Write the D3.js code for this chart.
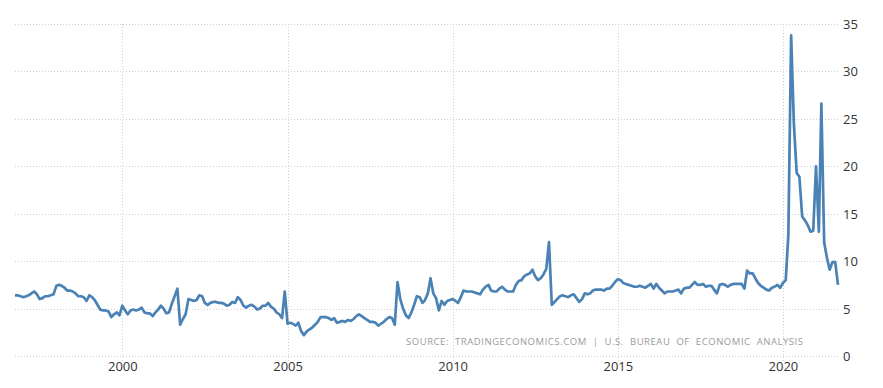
<!DOCTYPE html>
<html lang='en'>
<head>
    <meta charset='UTF-8'>
    <title>Personal Saving Rate</title>
    <script src='https://cdn.jsdelivr.net/npm/d3@7'></script>
    <style>
        body { margin: 0; background: #fff; font-family: 'Open Sans', sans-serif; }
        .grid line { stroke: #cfcfcf; stroke-dasharray: 1 2; shape-rendering: crispEdges; }
        .grid path { display: none; }
        .axis path, .axis line { display: none; }
        .axis text { fill: #333; font-size: 13px; font-family: 'Open Sans', sans-serif; }
        .line { fill: none; stroke: #4a82b5; stroke-width: 2.7; stroke-linejoin: round; }
        .source { fill: #9a9a9a; font-size: 9.5px; letter-spacing: 0.55px; }
    </style>
</head>
<body>
<script>
    // monthly values, Oct 1996 .. Sep 2021
    const startMonth = new Date(1996, 9, 1);
    const rate1996 = [6.4, 6.4, 6.3];
    const rate1997 = [6.2, 6.3, 6.4, 6.6, 6.8, 6.5, 6.0, 6.1, 6.3, 6.3, 6.4, 6.5];
    const rate1998 = [7.4, 7.5, 7.4, 7.2, 6.9, 6.9, 6.8, 6.6, 6.3, 6.3, 6.2, 5.8];
    const rate1999 = [6.4, 6.2, 5.9, 5.4, 4.9, 4.8, 4.8, 4.7, 4.1, 4.4, 4.6, 4.3];
    const rate2000 = [5.3, 4.8, 4.4, 4.8, 4.9, 4.8, 4.9, 5.1, 4.6, 4.5, 4.5, 4.2];
    const rate2001 = [4.6, 4.9, 5.3, 5.0, 4.5, 4.6, 5.5, 6.3, 7.1, 3.3, 3.9, 4.4];
    const rate2002 = [6.0, 5.9, 5.8, 5.9, 6.4, 6.3, 5.6, 5.4, 5.6, 5.7, 5.7, 5.6];
    const rate2003 = [5.6, 5.5, 5.3, 5.4, 5.7, 5.6, 6.2, 5.9, 5.3, 5.1, 5.3, 5.4];
    const rate2004 = [5.2, 4.9, 5.0, 5.3, 5.3, 5.6, 5.2, 5.0, 4.6, 4.4, 4.0, 6.8];
    const rate2005 = [3.4, 3.5, 3.4, 3.2, 3.5, 2.6, 2.2, 2.6, 2.8, 3.0, 3.3, 3.6];
    const rate2006 = [4.1, 4.1, 4.1, 4.0, 3.8, 4.0, 3.5, 3.6, 3.7, 3.6, 3.8, 3.7];
    const rate2007 = [3.9, 4.2, 4.4, 4.2, 4.0, 3.8, 3.6, 3.6, 3.5, 3.2, 3.4, 3.6];
    const rate2008 = [3.9, 4.1, 4.0, 3.3, 7.8, 6.0, 5.0, 4.3, 4.0, 4.6, 5.4, 6.3];
    const rate2009 = [6.2, 5.6, 5.9, 6.6, 8.2, 6.6, 6.1, 4.8, 5.8, 5.4, 5.8, 5.9];
    const rate2010 = [6.0, 5.8, 5.6, 6.2, 6.9, 6.8, 6.8, 6.8, 6.7, 6.6, 6.5, 7.0];
    const rate2011 = [7.3, 7.5, 6.9, 6.8, 6.8, 7.1, 7.3, 7.0, 6.8, 6.8, 6.8, 7.5];
    const rate2012 = [7.9, 8.0, 8.4, 8.6, 8.7, 9.1, 8.4, 8.0, 8.2, 8.6, 9.2, 12.0];
    const rate2013 = [5.4, 5.7, 6.0, 6.3, 6.4, 6.3, 6.2, 6.4, 6.5, 6.1, 5.7, 6.0];
    const rate2014 = [6.6, 6.5, 6.6, 6.9, 7.0, 7.0, 7.0, 6.9, 7.1, 7.1, 7.4, 7.8];
    const rate2015 = [8.1, 8.0, 7.7, 7.6, 7.5, 7.4, 7.3, 7.3, 7.4, 7.3, 7.2, 7.4];
    const rate2016 = [7.6, 7.1, 7.6, 7.2, 6.9, 6.6, 6.8, 6.8, 6.8, 6.9, 7.0, 6.6];
    const rate2017 = [7.1, 7.2, 7.2, 7.5, 7.8, 7.5, 7.5, 7.6, 7.3, 7.4, 7.4, 7.0];
    const rate2018 = [6.6, 7.5, 7.6, 7.5, 7.3, 7.5, 7.6, 7.6, 7.6, 7.6, 7.1, 9.0];
    const rate2019 = [8.7, 8.7, 8.2, 7.7, 7.4, 7.2, 7.0, 6.9, 7.2, 7.3, 7.5, 7.2];
    const rate2020 = [7.7, 8.0, 12.8, 33.8, 24.5, 19.3, 18.9, 14.7, 14.3, 13.8, 13.1, 13.2];
    const rate2021 = [20.0, 13.1, 26.6, 12.0, 10.4, 9.1, 9.9, 9.9, 7.5];

    const yTicks = [0, 5, 10, 15, 20, 25, 30, 35];
    const xTickYears = [2000, 2005, 2010, 2015, 2020];
    const sourceText = 'SOURCE:  TRADINGECONOMICS.COM  |  U.S.  BUREAU  OF  ECONOMIC  ANALYSIS';

    const values = [].concat(rate1996, rate1997, rate1998, rate1999, rate2000, rate2001,
        rate2002, rate2003, rate2004, rate2005, rate2006, rate2007, rate2008, rate2009,
        rate2010, rate2011, rate2012, rate2013, rate2014, rate2015, rate2016, rate2017,
        rate2018, rate2019, rate2020, rate2021);
    const dataset = values.map((v, i) => ({ date: d3.timeMonth.offset(startMonth, i), value: v }));

    const width = 883, height = 388;
    const plot = { left: 15, right: 838, top: 24, bottom: 356 };

    const svg = d3.select('body').append('svg')
        .attr('width', width)
        .attr('height', height);

    const xScale = d3.scaleTime()
        .domain(d3.extent(dataset, d => d.date))
        .range([plot.left, plot.right]);

    const yScale = d3.scaleLinear()
        .domain([0, 35])
        .range([plot.bottom, plot.top]);

    // horizontal grid
    svg.append('g')
        .attr('class', 'grid')
        .attr('transform', `translate(${plot.left},0)`)
        .call(d3.axisRight(yScale).tickValues(yTicks).tickSize(plot.right - plot.left).tickFormat(''));

    // vertical grid
    const yearDates = xTickYears.map(y => new Date(y, 0, 1));
    svg.append('g')
        .attr('class', 'grid')
        .attr('transform', `translate(0,${plot.top})`)
        .call(d3.axisBottom(xScale).tickValues(yearDates).tickSize(plot.bottom - plot.top + 6).tickFormat(''));

    // axes labels
    svg.append('g')
        .attr('class', 'axis')
        .attr('transform', `translate(${plot.right},0)`)
        .call(d3.axisRight(yScale).tickValues(yTicks).tickSize(0).tickPadding(5))
        .selectAll('text').attr('dy', '0.35em');

    svg.append('g')
        .attr('class', 'axis')
        .attr('transform', `translate(0,${plot.bottom})`)
        .call(d3.axisBottom(xScale).tickValues(yearDates).tickSize(0).tickPadding(6).tickFormat(d3.timeFormat('%Y')));

    svg.append('text')
        .attr('class', 'source')
        .attr('x', 406)
        .attr('y', 345)
        .attr('xml:space', 'preserve')
        .style('white-space', 'pre')
        .text(sourceText);

    const line = d3.line()
        .x(d => xScale(d.date))
        .y(d => yScale(d.value));

    svg.append('path')
        .datum(dataset)
        .attr('class', 'line')
        .attr('d', line);
</script>
</body>
</html>
